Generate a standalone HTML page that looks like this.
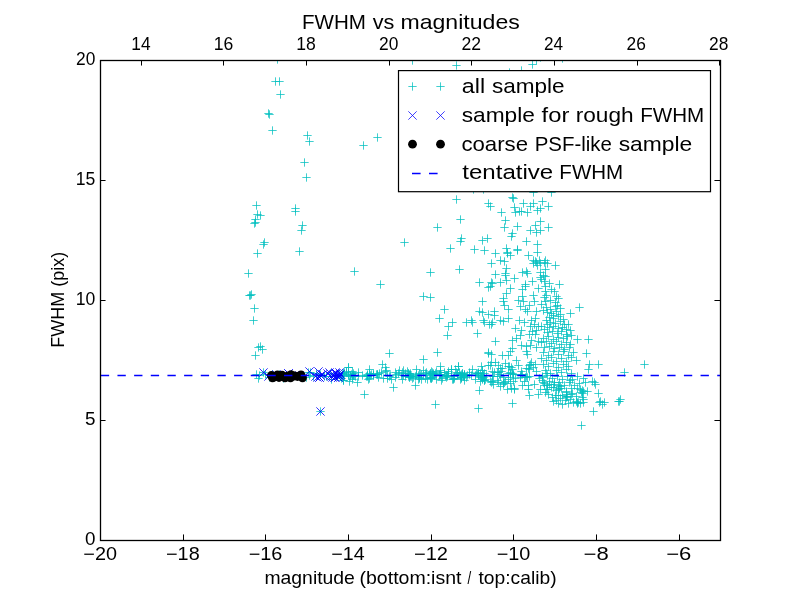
<!DOCTYPE html>
<html><head><meta charset="utf-8"><style>
html,body{margin:0;padding:0;background:#fff;}
svg{display:block;will-change:transform;}
text{font-family:"Liberation Sans", sans-serif;fill:#000;}
</style></head><body>
<svg width="800" height="600" viewBox="0 0 800 600">
<defs><clipPath id="ax"><rect x="100" y="60" width="620" height="480"/></clipPath></defs>
<rect x="0" y="0" width="800" height="600" fill="#fff"/>
<g clip-path="url(#ax)">
<path d="M273.33 59.50h8.33M277.50 55.34v8.33M271.33 81.50h8.33M275.50 77.33v8.33M275.33 81.50h8.33M279.50 77.33v8.33M276.33 94.50h8.33M280.50 90.33v8.33M264.33 113.50h8.33M268.50 109.33v8.33M265.33 114.50h8.33M269.50 110.33v8.33M268.33 130.50h8.33M272.50 126.33v8.33M303.33 135.50h8.33M307.50 131.34v8.33M305.33 141.50h8.33M309.50 137.34v8.33M300.33 162.50h8.33M304.50 158.34v8.33M302.33 177.50h8.33M306.50 173.34v8.33M252.34 205.50h8.33M256.50 201.34v8.33M256.33 215.50h8.33M260.50 211.34v8.33M253.34 214.50h8.33M257.50 210.34v8.33M251.34 219.50h8.33M255.50 215.34v8.33M251.34 222.50h8.33M255.50 218.34v8.33M250.34 223.50h8.33M254.50 219.34v8.33M291.33 208.50h8.33M295.50 204.34v8.33M291.33 211.50h8.33M295.50 207.34v8.33M298.33 225.50h8.33M302.50 221.34v8.33M297.33 230.50h8.33M301.50 226.34v8.33M260.33 242.50h8.33M264.50 238.34v8.33M259.33 244.50h8.33M263.50 240.34v8.33M253.34 253.50h8.33M257.50 249.34v8.33M295.33 251.50h8.33M299.50 247.34v8.33M244.34 273.50h8.33M248.50 269.33v8.33M245.34 295.50h8.33M249.50 291.33v8.33M247.34 294.50h8.33M251.50 290.33v8.33M246.34 295.50h8.33M250.50 291.33v8.33M250.34 308.50h8.33M254.50 304.33v8.33M249.34 320.50h8.33M253.50 316.33v8.33M254.34 347.50h8.33M258.50 343.33v8.33M256.33 346.50h8.33M260.50 342.33v8.33M258.33 349.50h8.33M262.50 345.33v8.33M251.34 355.50h8.33M255.50 351.33v8.33M259.33 372.50h8.33M263.50 368.33v8.33M373.33 137.50h8.33M377.50 133.34v8.33M359.33 145.50h8.33M363.50 141.34v8.33M408.33 60.50h8.33M412.50 56.34v8.33M400.33 242.50h8.33M404.50 238.34v8.33M350.33 271.50h8.33M354.50 267.33v8.33M376.33 284.50h8.33M380.50 280.33v8.33M419.33 296.50h8.33M423.50 292.33v8.33M452.33 65.50h8.33M456.50 61.34v8.33M528.34 64.50h8.33M532.50 60.34v8.33M532.34 60.50h8.33M536.50 56.34v8.33M505.33 72.50h8.33M509.50 68.33v8.33M517.34 70.50h8.33M521.50 66.33v8.33M536.34 57.50h8.33M540.50 53.34v8.33M558.34 58.50h8.33M562.50 54.34v8.33M452.33 199.50h8.33M456.50 195.34v8.33M484.33 203.50h8.33M488.50 199.34v8.33M486.33 206.50h8.33M490.50 202.34v8.33M508.33 197.50h8.33M512.50 193.34v8.33M509.33 198.50h8.33M513.50 194.34v8.33M497.33 212.50h8.33M501.50 208.34v8.33M510.33 207.50h8.33M514.50 203.34v8.33M511.33 212.50h8.33M515.50 208.34v8.33M515.34 211.50h8.33M519.50 207.34v8.33M456.33 219.50h8.33M460.50 215.34v8.33M501.33 220.50h8.33M505.50 216.34v8.33M433.33 227.50h8.33M437.50 223.34v8.33M500.33 227.50h8.33M504.50 223.34v8.33M513.34 226.50h8.33M517.50 222.34v8.33M508.33 233.50h8.33M512.50 229.34v8.33M507.33 236.50h8.33M511.50 232.34v8.33M457.33 238.50h8.33M461.50 234.34v8.33M456.33 241.50h8.33M460.50 237.34v8.33M483.33 238.50h8.33M487.50 234.34v8.33M478.33 240.50h8.33M482.50 236.34v8.33M446.33 248.50h8.33M450.50 244.34v8.33M470.33 249.50h8.33M474.50 245.34v8.33M480.33 250.50h8.33M484.50 246.34v8.33M502.33 248.50h8.33M506.50 244.34v8.33M513.34 249.50h8.33M517.50 245.34v8.33M455.33 269.50h8.33M459.50 265.33v8.33M426.33 272.50h8.33M430.50 268.33v8.33M475.33 282.50h8.33M479.50 278.33v8.33M529.34 192.50h8.33M533.50 188.34v8.33M547.34 192.50h8.33M551.50 188.34v8.33M519.34 203.50h8.33M523.50 199.34v8.33M529.34 203.50h8.33M533.50 199.34v8.33M538.34 201.50h8.33M542.50 197.34v8.33M526.34 206.50h8.33M530.50 202.34v8.33M544.34 206.50h8.33M548.50 202.34v8.33M517.34 211.50h8.33M521.50 207.34v8.33M523.34 212.50h8.33M527.50 208.34v8.33M533.34 210.50h8.33M537.50 206.34v8.33M536.34 208.50h8.33M540.50 204.34v8.33M536.34 221.50h8.33M540.50 217.34v8.33M531.34 225.50h8.33M535.50 221.34v8.33M544.34 227.50h8.33M548.50 223.34v8.33M526.34 230.50h8.33M530.50 226.34v8.33M532.34 232.50h8.33M536.50 228.34v8.33M536.34 230.50h8.33M540.50 226.34v8.33M522.34 241.50h8.33M526.50 237.34v8.33M533.34 244.50h8.33M537.50 240.34v8.33M484.33 287.50h8.33M488.50 283.33v8.33M426.33 297.50h8.33M430.50 293.33v8.33M440.33 309.50h8.33M444.50 305.33v8.33M435.33 318.50h8.33M439.50 314.33v8.33M448.33 322.50h8.33M452.50 318.33v8.33M444.33 326.50h8.33M448.50 322.33v8.33M443.33 335.50h8.33M447.50 331.33v8.33M433.33 352.50h8.33M437.50 348.33v8.33M419.33 359.50h8.33M423.50 355.33v8.33M478.33 301.50h8.33M482.50 297.33v8.33M475.33 311.50h8.33M479.50 307.33v8.33M478.33 312.50h8.33M482.50 308.33v8.33M484.33 314.50h8.33M488.50 310.33v8.33M462.33 322.50h8.33M466.50 318.33v8.33M467.33 320.50h8.33M471.50 316.33v8.33M468.33 322.50h8.33M472.50 318.33v8.33M479.33 320.50h8.33M483.50 316.33v8.33M480.33 322.50h8.33M484.50 318.33v8.33M485.33 324.50h8.33M489.50 320.33v8.33M473.33 333.50h8.33M477.50 329.33v8.33M484.33 352.50h8.33M488.50 348.33v8.33M454.33 366.50h8.33M458.50 362.33v8.33M640.34 364.50h8.33M644.50 360.33v8.33M620.34 372.50h8.33M624.50 368.33v8.33M596.34 401.50h8.33M600.50 397.33v8.33M600.34 402.50h8.33M604.50 398.33v8.33M598.34 404.50h8.33M602.50 400.33v8.33M616.34 399.50h8.33M620.50 395.33v8.33M615.34 401.50h8.33M619.50 397.33v8.33M589.34 411.50h8.33M593.50 407.33v8.33M577.34 425.50h8.33M581.50 421.33v8.33M431.33 404.50h8.33M435.50 400.33v8.33M474.33 408.50h8.33M478.50 404.33v8.33M475.33 390.50h8.33M479.50 386.33v8.33M614.34 401.50h8.33M618.50 397.33v8.33M385.33 353.50h8.33M389.50 349.33v8.33M484.33 353.50h8.33M488.50 349.33v8.33M360.33 394.50h8.33M364.50 390.33v8.33M389.33 387.50h8.33M393.50 383.33v8.33M411.33 385.50h8.33M415.50 381.33v8.33M353.33 382.50h8.33M357.50 378.33v8.33M344.33 367.50h8.33M348.50 363.33v8.33M378.33 364.50h8.33M382.50 360.33v8.33M381.33 367.50h8.33M385.50 363.33v8.33M436.33 366.50h8.33M440.50 362.33v8.33M454.33 366.50h8.33M458.50 362.33v8.33M437.33 380.50h8.33M441.50 376.33v8.33M477.33 366.50h8.33M481.50 362.33v8.33M484.33 365.50h8.33M488.50 361.33v8.33M344.33 367.50h8.33M348.50 363.33v8.33M342.33 371.50h8.33M346.50 367.33v8.33M339.33 373.50h8.33M343.50 369.33v8.33M339.33 380.50h8.33M343.50 376.33v8.33M346.33 376.50h8.33M350.50 372.33v8.33M349.33 373.50h8.33M353.50 369.33v8.33M316.33 411.50h8.33M320.50 407.33v8.33M524.34 255.50h8.33M528.50 251.34v8.33M533.34 252.50h8.33M537.50 248.34v8.33M529.34 260.50h8.33M533.50 256.33v8.33M531.34 261.50h8.33M535.50 257.33v8.33M532.34 262.50h8.33M536.50 258.33v8.33M535.34 260.50h8.33M539.50 256.33v8.33M529.34 263.50h8.33M533.50 259.33v8.33M536.34 263.50h8.33M540.50 259.33v8.33M533.34 265.50h8.33M537.50 261.33v8.33M540.34 262.50h8.33M544.50 258.33v8.33M541.34 260.50h8.33M545.50 256.33v8.33M543.34 263.50h8.33M547.50 259.33v8.33M551.34 265.50h8.33M555.50 261.33v8.33M518.34 272.50h8.33M522.50 268.33v8.33M522.34 271.50h8.33M526.50 267.33v8.33M523.34 273.50h8.33M527.50 269.33v8.33M541.34 269.50h8.33M545.50 265.33v8.33M536.34 272.50h8.33M540.50 268.33v8.33M539.34 275.50h8.33M543.50 271.33v8.33M536.34 277.50h8.33M540.50 273.33v8.33M541.34 276.50h8.33M545.50 272.33v8.33M528.34 281.50h8.33M532.50 277.33v8.33M537.34 279.50h8.33M541.50 275.33v8.33M540.34 281.50h8.33M544.50 277.33v8.33M545.34 283.50h8.33M549.50 279.33v8.33M555.34 284.50h8.33M559.50 280.33v8.33M521.34 284.50h8.33M525.50 280.33v8.33M521.34 286.50h8.33M525.50 282.33v8.33M518.34 289.50h8.33M522.50 285.33v8.33M534.34 288.50h8.33M538.50 284.33v8.33M541.34 286.50h8.33M545.50 282.33v8.33M547.34 289.50h8.33M551.50 285.33v8.33M541.34 291.50h8.33M545.50 287.33v8.33M550.34 291.50h8.33M554.50 287.33v8.33M542.34 295.50h8.33M546.50 291.33v8.33M529.34 295.50h8.33M533.50 291.33v8.33M552.34 296.50h8.33M556.50 292.33v8.33M518.34 296.50h8.33M522.50 292.33v8.33M540.34 297.50h8.33M544.50 293.33v8.33M554.34 298.50h8.33M558.50 294.33v8.33M491.33 253.50h8.33M495.50 249.34v8.33M503.33 252.50h8.33M507.50 248.34v8.33M506.33 255.50h8.33M510.50 251.34v8.33M503.33 253.50h8.33M507.50 249.34v8.33M513.34 250.50h8.33M517.50 246.34v8.33M496.33 260.50h8.33M500.50 256.33v8.33M500.33 261.50h8.33M504.50 257.33v8.33M487.33 263.50h8.33M491.50 259.33v8.33M502.33 268.50h8.33M506.50 264.33v8.33M501.33 273.50h8.33M505.50 269.33v8.33M491.33 274.50h8.33M495.50 270.33v8.33M501.33 275.50h8.33M505.50 271.33v8.33M502.33 280.50h8.33M506.50 276.33v8.33M510.33 278.50h8.33M514.50 274.33v8.33M496.33 282.50h8.33M500.50 278.33v8.33M487.33 282.50h8.33M491.50 278.33v8.33M488.33 283.50h8.33M492.50 279.33v8.33M486.33 286.50h8.33M490.50 282.33v8.33M506.33 288.50h8.33M510.50 284.33v8.33M502.33 293.50h8.33M506.50 289.33v8.33M499.33 298.50h8.33M503.50 294.33v8.33M499.33 301.50h8.33M503.50 297.33v8.33M500.33 305.50h8.33M504.50 301.33v8.33M504.33 309.50h8.33M508.50 305.33v8.33M490.33 311.50h8.33M494.50 307.33v8.33M490.33 315.50h8.33M494.50 311.33v8.33M496.33 320.50h8.33M500.50 316.33v8.33M499.33 321.50h8.33M503.50 317.33v8.33M504.33 318.50h8.33M508.50 314.33v8.33M488.33 322.50h8.33M492.50 318.33v8.33M487.33 324.50h8.33M491.50 320.33v8.33M491.33 341.50h8.33M495.50 337.33v8.33M515.34 320.50h8.33M519.50 316.33v8.33M511.33 328.50h8.33M515.50 324.33v8.33M517.34 330.50h8.33M521.50 326.33v8.33M516.34 335.50h8.33M520.50 331.33v8.33M508.33 340.50h8.33M512.50 336.33v8.33M512.34 338.50h8.33M516.50 334.33v8.33M517.34 345.50h8.33M521.50 341.33v8.33M508.33 348.50h8.33M512.50 344.33v8.33M514.34 300.50h8.33M518.50 296.33v8.33M519.34 301.50h8.33M523.50 297.33v8.33M516.34 306.50h8.33M520.50 302.33v8.33M525.34 305.50h8.33M529.50 301.33v8.33M521.34 309.50h8.33M525.50 305.33v8.33M523.34 311.50h8.33M527.50 307.33v8.33M532.34 311.50h8.33M536.50 307.33v8.33M530.34 301.50h8.33M534.50 297.33v8.33M520.34 322.50h8.33M524.50 318.33v8.33M527.34 320.50h8.33M531.50 316.33v8.33M531.34 318.50h8.33M535.50 314.33v8.33M526.34 326.50h8.33M530.50 322.33v8.33M530.34 324.50h8.33M534.50 320.33v8.33M534.34 326.50h8.33M538.50 322.33v8.33M528.34 331.50h8.33M532.50 327.33v8.33M532.34 330.50h8.33M536.50 326.33v8.33M531.34 334.50h8.33M535.50 330.33v8.33M525.34 334.50h8.33M529.50 330.33v8.33M527.34 340.50h8.33M531.50 336.33v8.33M526.34 345.50h8.33M530.50 341.33v8.33M534.34 341.50h8.33M538.50 337.33v8.33M522.34 346.50h8.33M526.50 342.33v8.33M532.34 347.50h8.33M536.50 343.33v8.33M575.34 307.50h8.33M579.50 303.33v8.33M566.34 313.50h8.33M570.50 309.33v8.33M564.34 324.50h8.33M568.50 320.33v8.33M566.34 330.50h8.33M570.50 326.33v8.33M573.34 339.50h8.33M577.50 335.33v8.33M584.34 339.50h8.33M588.50 335.33v8.33M537.34 326.50h8.33M541.50 322.33v8.33M567.34 335.50h8.33M571.50 331.33v8.33M541.34 301.50h8.33M545.50 297.33v8.33M546.34 300.50h8.33M550.50 296.33v8.33M551.34 302.50h8.33M555.50 298.33v8.33M537.34 304.50h8.33M541.50 300.33v8.33M553.34 305.50h8.33M557.50 301.33v8.33M542.34 307.50h8.33M546.50 303.33v8.33M546.34 309.50h8.33M550.50 305.33v8.33M551.34 306.50h8.33M555.50 302.33v8.33M556.34 308.50h8.33M560.50 304.33v8.33M539.34 310.50h8.33M543.50 306.33v8.33M543.34 312.50h8.33M547.50 308.33v8.33M547.34 313.50h8.33M551.50 309.33v8.33M552.34 311.50h8.33M556.50 307.33v8.33M556.34 314.50h8.33M560.50 310.33v8.33M549.34 315.50h8.33M553.50 311.33v8.33M545.34 317.50h8.33M549.50 313.33v8.33M549.34 318.50h8.33M553.50 314.33v8.33M554.34 316.50h8.33M558.50 312.33v8.33M559.34 319.50h8.33M563.50 315.33v8.33M542.34 320.50h8.33M546.50 316.33v8.33M546.34 322.50h8.33M550.50 318.33v8.33M551.34 323.50h8.33M555.50 319.33v8.33M556.34 321.50h8.33M560.50 317.33v8.33M560.34 324.50h8.33M564.50 320.33v8.33M543.34 324.50h8.33M547.50 320.33v8.33M545.34 327.50h8.33M549.50 323.33v8.33M549.34 326.50h8.33M553.50 322.33v8.33M554.34 328.50h8.33M558.50 324.33v8.33M558.34 327.50h8.33M562.50 323.33v8.33M562.34 329.50h8.33M566.50 325.33v8.33M540.34 329.50h8.33M544.50 325.33v8.33M543.34 332.50h8.33M547.50 328.33v8.33M548.34 331.50h8.33M552.50 327.33v8.33M553.34 333.50h8.33M557.50 329.33v8.33M557.34 331.50h8.33M561.50 327.33v8.33M562.34 334.50h8.33M566.50 330.33v8.33M539.34 338.50h8.33M543.50 334.33v8.33M544.34 336.50h8.33M548.50 332.33v8.33M549.34 339.50h8.33M553.50 335.33v8.33M554.34 337.50h8.33M558.50 333.33v8.33M559.34 338.50h8.33M563.50 334.33v8.33M563.34 336.50h8.33M567.50 332.33v8.33M537.34 342.50h8.33M541.50 338.33v8.33M542.34 341.50h8.33M546.50 337.33v8.33M547.34 343.50h8.33M551.50 339.33v8.33M552.34 341.50h8.33M556.50 337.33v8.33M557.34 344.50h8.33M561.50 340.33v8.33M562.34 342.50h8.33M566.50 338.33v8.33M566.34 344.50h8.33M570.50 340.33v8.33M540.34 347.50h8.33M544.50 343.33v8.33M545.34 346.50h8.33M549.50 342.33v8.33M550.34 348.50h8.33M554.50 344.33v8.33M555.34 347.50h8.33M559.50 343.33v8.33M560.34 349.50h8.33M564.50 345.33v8.33M565.34 347.50h8.33M569.50 343.33v8.33M508.33 403.50h8.33M512.50 399.33v8.33M525.34 395.50h8.33M529.50 391.33v8.33M534.34 394.50h8.33M538.50 390.33v8.33M487.33 354.50h8.33M491.50 350.33v8.33M504.33 355.50h8.33M508.50 351.33v8.33M498.33 355.50h8.33M502.50 351.33v8.33M523.34 354.50h8.33M527.50 350.33v8.33M506.33 351.50h8.33M510.50 347.33v8.33M522.34 351.50h8.33M526.50 347.33v8.33M487.33 362.50h8.33M491.50 358.33v8.33M490.33 372.50h8.33M494.50 368.33v8.33M493.33 380.50h8.33M497.50 376.33v8.33M496.33 368.50h8.33M500.50 364.33v8.33M499.33 377.50h8.33M503.50 373.33v8.33M501.33 363.50h8.33M505.50 359.33v8.33M504.33 373.50h8.33M508.50 369.33v8.33M506.33 383.50h8.33M510.50 379.33v8.33M508.33 369.50h8.33M512.50 365.33v8.33M511.33 378.50h8.33M515.50 374.33v8.33M514.34 365.50h8.33M518.50 361.33v8.33M517.34 374.50h8.33M521.50 370.33v8.33M520.34 381.50h8.33M524.50 377.33v8.33M522.34 368.50h8.33M526.50 364.33v8.33M525.34 376.50h8.33M529.50 372.33v8.33M527.34 362.50h8.33M531.50 358.33v8.33M530.34 384.50h8.33M534.50 380.33v8.33M532.34 371.50h8.33M536.50 367.33v8.33M535.34 378.50h8.33M539.50 374.33v8.33M489.33 384.50h8.33M493.50 380.33v8.33M496.33 386.50h8.33M500.50 382.33v8.33M503.33 389.50h8.33M507.50 385.33v8.33M510.33 388.50h8.33M514.50 384.33v8.33M518.34 385.50h8.33M522.50 381.33v8.33M524.34 389.50h8.33M528.50 385.33v8.33M512.34 360.50h8.33M516.50 356.33v8.33M531.34 364.50h8.33M535.50 360.33v8.33M500.33 382.50h8.33M504.50 378.33v8.33M582.34 353.50h8.33M586.50 349.33v8.33M594.34 364.50h8.33M598.50 360.33v8.33M585.34 364.50h8.33M589.50 360.33v8.33M584.34 369.50h8.33M588.50 365.33v8.33M590.34 382.50h8.33M594.50 378.33v8.33M591.34 384.50h8.33M595.50 380.33v8.33M588.34 381.50h8.33M592.50 377.33v8.33M594.34 393.50h8.33M598.50 389.33v8.33M595.34 402.50h8.33M599.50 398.33v8.33M558.34 404.50h8.33M562.50 400.33v8.33M554.34 403.50h8.33M558.50 399.33v8.33M548.34 397.50h8.33M552.50 393.33v8.33M541.34 392.50h8.33M545.50 388.33v8.33M579.34 399.50h8.33M583.50 395.33v8.33M569.34 402.50h8.33M573.50 398.33v8.33M572.34 401.50h8.33M576.50 397.33v8.33M539.34 352.50h8.33M543.50 348.33v8.33M544.34 355.50h8.33M548.50 351.33v8.33M549.34 351.50h8.33M553.50 347.33v8.33M554.34 354.50h8.33M558.50 350.33v8.33M559.34 351.50h8.33M563.50 347.33v8.33M564.34 355.50h8.33M568.50 351.33v8.33M569.34 352.50h8.33M573.50 348.33v8.33M537.34 358.50h8.33M541.50 354.33v8.33M542.34 360.50h8.33M546.50 356.33v8.33M547.34 357.50h8.33M551.50 353.33v8.33M552.34 361.50h8.33M556.50 357.33v8.33M557.34 358.50h8.33M561.50 354.33v8.33M562.34 361.50h8.33M566.50 357.33v8.33M567.34 357.50h8.33M571.50 353.33v8.33M572.34 360.50h8.33M576.50 356.33v8.33M539.34 364.50h8.33M543.50 360.33v8.33M544.34 366.50h8.33M548.50 362.33v8.33M549.34 363.50h8.33M553.50 359.33v8.33M554.34 367.50h8.33M558.50 363.33v8.33M559.34 364.50h8.33M563.50 360.33v8.33M564.34 366.50h8.33M568.50 362.33v8.33M541.34 370.50h8.33M545.50 366.33v8.33M546.34 373.50h8.33M550.50 369.33v8.33M552.34 370.50h8.33M556.50 366.33v8.33M557.34 372.50h8.33M561.50 368.33v8.33M562.34 369.50h8.33M566.50 365.33v8.33M567.34 373.50h8.33M571.50 369.33v8.33M538.34 377.50h8.33M542.50 373.33v8.33M543.34 375.50h8.33M547.50 371.33v8.33M548.34 378.50h8.33M552.50 374.33v8.33M553.34 376.50h8.33M557.50 372.33v8.33M558.34 379.50h8.33M562.50 375.33v8.33M563.34 376.50h8.33M567.50 372.33v8.33M568.34 379.50h8.33M572.50 375.33v8.33M573.34 376.50h8.33M577.50 372.33v8.33M579.34 378.50h8.33M583.50 374.33v8.33M540.34 383.50h8.33M544.50 379.33v8.33M545.34 381.50h8.33M549.50 377.33v8.33M550.34 384.50h8.33M554.50 380.33v8.33M555.34 382.50h8.33M559.50 378.33v8.33M560.34 385.50h8.33M564.50 381.33v8.33M565.34 382.50h8.33M569.50 378.33v8.33M570.34 385.50h8.33M574.50 381.33v8.33M575.34 383.50h8.33M579.50 379.33v8.33M542.34 389.50h8.33M546.50 385.33v8.33M547.34 387.50h8.33M551.50 383.33v8.33M552.34 390.50h8.33M556.50 386.33v8.33M557.34 388.50h8.33M561.50 384.33v8.33M562.34 391.50h8.33M566.50 387.33v8.33M567.34 388.50h8.33M571.50 384.33v8.33M544.34 394.50h8.33M548.50 390.33v8.33M551.34 395.50h8.33M555.50 391.33v8.33M556.34 398.50h8.33M560.50 394.33v8.33M562.34 394.50h8.33M566.50 390.33v8.33M566.34 399.50h8.33M570.50 395.33v8.33M572.34 396.50h8.33M576.50 392.33v8.33M505.33 366.50h8.33M509.50 362.33v8.33M506.33 372.50h8.33M510.50 368.33v8.33M509.33 374.50h8.33M513.50 370.33v8.33M509.33 374.50h8.33M513.50 370.33v8.33M516.34 377.50h8.33M520.50 373.33v8.33M495.33 374.50h8.33M499.50 370.33v8.33M481.33 379.50h8.33M485.50 375.33v8.33M478.33 370.50h8.33M482.50 366.33v8.33M539.34 382.50h8.33M543.50 378.33v8.33M516.34 375.50h8.33M520.50 371.33v8.33M486.33 381.50h8.33M490.50 377.33v8.33M479.33 377.50h8.33M483.50 373.33v8.33M488.33 376.50h8.33M492.50 372.33v8.33M506.33 377.50h8.33M510.50 373.33v8.33M504.33 379.50h8.33M508.50 375.33v8.33M517.34 371.50h8.33M521.50 367.33v8.33M508.33 373.50h8.33M512.50 369.33v8.33M494.33 372.50h8.33M498.50 368.33v8.33M540.34 385.50h8.33M544.50 381.33v8.33M522.34 376.50h8.33M526.50 372.33v8.33M496.33 376.50h8.33M500.50 372.33v8.33M480.33 380.50h8.33M484.50 376.33v8.33M525.34 369.50h8.33M529.50 365.33v8.33M501.33 381.50h8.33M505.50 377.33v8.33M538.34 376.50h8.33M542.50 372.33v8.33M489.33 376.50h8.33M493.50 372.33v8.33M577.34 392.50h8.33M581.50 388.33v8.33M579.34 391.50h8.33M583.50 387.33v8.33M554.34 395.50h8.33M558.50 391.33v8.33M573.34 388.50h8.33M577.50 384.33v8.33M554.34 389.50h8.33M558.50 385.33v8.33M578.34 397.50h8.33M582.50 393.33v8.33M555.34 388.50h8.33M559.50 384.33v8.33M554.34 385.50h8.33M558.50 381.33v8.33M488.33 381.50h8.33M492.50 377.33v8.33M404.33 373.50h8.33M408.50 369.33v8.33M455.33 372.50h8.33M459.50 368.33v8.33M409.33 377.50h8.33M413.50 373.33v8.33M415.33 373.50h8.33M419.50 369.33v8.33M441.33 376.50h8.33M445.50 372.33v8.33M398.33 379.50h8.33M402.50 375.33v8.33M438.33 378.50h8.33M442.50 374.33v8.33M447.33 375.50h8.33M451.50 371.33v8.33M401.33 373.50h8.33M405.50 369.33v8.33M474.33 372.50h8.33M478.50 368.33v8.33M458.33 373.50h8.33M462.50 369.33v8.33M493.33 372.50h8.33M497.50 368.33v8.33M432.33 379.50h8.33M436.50 375.33v8.33M453.33 374.50h8.33M457.50 370.33v8.33M404.33 373.50h8.33M408.50 369.33v8.33M443.33 375.50h8.33M447.50 371.33v8.33M440.33 372.50h8.33M444.50 368.33v8.33M460.33 376.50h8.33M464.50 372.33v8.33M428.33 377.50h8.33M432.50 373.33v8.33M477.33 376.50h8.33M481.50 372.33v8.33M405.33 377.50h8.33M409.50 373.33v8.33M399.33 375.50h8.33M403.50 371.33v8.33M478.33 379.50h8.33M482.50 375.33v8.33M429.33 374.50h8.33M433.50 370.33v8.33M426.33 377.50h8.33M430.50 373.33v8.33M473.33 373.50h8.33M477.50 369.33v8.33M406.33 375.50h8.33M410.50 371.33v8.33M474.33 374.50h8.33M478.50 370.33v8.33M419.33 370.50h8.33M423.50 366.33v8.33M573.34 402.50h8.33M577.50 398.33v8.33M574.34 402.50h8.33M578.50 398.33v8.33M564.34 403.50h8.33M568.50 399.33v8.33M562.34 392.50h8.33M566.50 388.33v8.33M561.34 400.50h8.33M565.50 396.33v8.33M576.34 403.50h8.33M580.50 399.33v8.33M579.34 402.50h8.33M583.50 398.33v8.33M573.34 403.50h8.33M577.50 399.33v8.33M578.34 390.50h8.33M582.50 386.33v8.33M583.34 391.50h8.33M587.50 387.33v8.33M486.33 365.50h8.33M490.50 361.33v8.33M509.33 381.50h8.33M513.50 377.33v8.33M494.33 365.50h8.33M498.50 361.33v8.33M499.33 383.50h8.33M503.50 379.33v8.33M494.33 382.50h8.33M498.50 378.33v8.33M525.34 365.50h8.33M529.50 361.33v8.33M518.34 374.50h8.33M522.50 370.33v8.33M510.33 389.50h8.33M514.50 385.33v8.33M491.33 362.50h8.33M495.50 358.33v8.33M542.34 373.50h8.33M546.50 369.33v8.33M497.33 371.50h8.33M501.50 367.33v8.33M507.33 388.50h8.33M511.50 384.33v8.33M498.33 368.50h8.33M502.50 364.33v8.33M521.34 377.50h8.33M525.50 373.33v8.33M543.34 385.50h8.33M547.50 381.33v8.33M507.33 367.50h8.33M511.50 363.33v8.33M536.34 389.50h8.33M540.50 385.33v8.33M487.33 382.50h8.33M491.50 378.33v8.33M538.34 380.50h8.33M542.50 376.33v8.33M499.33 384.50h8.33M503.50 380.33v8.33M529.34 367.50h8.33M533.50 363.33v8.33M524.34 368.50h8.33M528.50 364.33v8.33M488.33 371.50h8.33M492.50 367.33v8.33M506.33 373.50h8.33M510.50 369.33v8.33M524.34 385.50h8.33M528.50 381.33v8.33M543.34 389.50h8.33M547.50 385.33v8.33M545.34 384.50h8.33M549.50 380.33v8.33M504.33 366.50h8.33M508.50 362.33v8.33M523.34 377.50h8.33M527.50 373.33v8.33M526.34 364.50h8.33M530.50 360.33v8.33M552.34 400.50h8.33M556.50 396.33v8.33M567.34 394.50h8.33M571.50 390.33v8.33M549.34 387.50h8.33M553.50 383.33v8.33M578.34 393.50h8.33M582.50 389.33v8.33M581.34 382.50h8.33M585.50 378.33v8.33M562.34 397.50h8.33M566.50 393.33v8.33M562.34 396.50h8.33M566.50 392.33v8.33M566.34 380.50h8.33M570.50 376.33v8.33M549.34 401.50h8.33M553.50 397.33v8.33M550.34 382.50h8.33M554.50 378.33v8.33M558.34 395.50h8.33M562.50 391.33v8.33M576.34 389.50h8.33M580.50 385.33v8.33M563.34 396.50h8.33M567.50 392.33v8.33M556.34 386.50h8.33M560.50 382.33v8.33M568.34 393.50h8.33M572.50 389.33v8.33M457.33 377.50h8.33M461.50 373.33v8.33M477.33 377.50h8.33M481.50 373.33v8.33M476.33 381.50h8.33M480.50 377.33v8.33M463.33 375.50h8.33M467.50 371.33v8.33M478.33 378.50h8.33M482.50 374.33v8.33M456.33 375.50h8.33M460.50 371.33v8.33M467.33 375.50h8.33M471.50 371.33v8.33M457.33 377.50h8.33M461.50 373.33v8.33M459.33 376.50h8.33M463.50 372.33v8.33M474.33 375.50h8.33M478.50 371.33v8.33M469.33 189.50h8.33M473.50 185.34v8.33M479.33 189.50h8.33M483.50 185.34v8.33M265.33 377.50h8.33M269.50 373.33v8.33M254.34 378.50h8.33M258.50 374.33v8.33M275.33 374.50h8.33M279.50 370.33v8.33M273.33 376.50h8.33M277.50 372.33v8.33M252.34 374.50h8.33M256.50 370.33v8.33M255.34 375.50h8.33M259.50 371.33v8.33M270.33 376.50h8.33M274.50 372.33v8.33M261.33 374.50h8.33M265.50 370.33v8.33M279.33 378.50h8.33M283.50 374.33v8.33M268.33 374.50h8.33M272.50 370.33v8.33M339.33 380.50h8.33M343.50 376.33v8.33M309.33 376.50h8.33M313.50 372.33v8.33M302.33 377.50h8.33M306.50 373.33v8.33M332.33 376.50h8.33M336.50 372.33v8.33M304.33 372.50h8.33M308.50 368.33v8.33M312.33 373.50h8.33M316.50 369.33v8.33M320.33 376.50h8.33M324.50 372.33v8.33M305.33 375.50h8.33M309.50 371.33v8.33M326.33 373.50h8.33M330.50 369.33v8.33M322.33 376.50h8.33M326.50 372.33v8.33M316.33 374.50h8.33M320.50 370.33v8.33M327.33 379.50h8.33M331.50 375.33v8.33M306.33 372.50h8.33M310.50 368.33v8.33M335.33 374.50h8.33M339.50 370.33v8.33M394.33 373.50h8.33M398.50 369.33v8.33M345.33 381.50h8.33M349.50 377.33v8.33M369.33 375.50h8.33M373.50 371.33v8.33M375.33 373.50h8.33M379.50 369.33v8.33M339.33 373.50h8.33M343.50 369.33v8.33M381.33 371.50h8.33M385.50 367.33v8.33M406.33 373.50h8.33M410.50 369.33v8.33M383.33 378.50h8.33M387.50 374.33v8.33M382.33 370.50h8.33M386.50 366.33v8.33M411.33 376.50h8.33M415.50 372.33v8.33M373.33 374.50h8.33M377.50 370.33v8.33M392.33 374.50h8.33M396.50 370.33v8.33M387.33 379.50h8.33M391.50 375.33v8.33M358.33 375.50h8.33M362.50 371.33v8.33M366.33 375.50h8.33M370.50 371.33v8.33M372.33 374.50h8.33M376.50 370.33v8.33M349.33 375.50h8.33M353.50 371.33v8.33M397.33 375.50h8.33M401.50 371.33v8.33M346.33 375.50h8.33M350.50 371.33v8.33M405.33 377.50h8.33M409.50 373.33v8.33M342.33 372.50h8.33M346.50 368.33v8.33M406.33 376.50h8.33M410.50 372.33v8.33M401.33 376.50h8.33M405.50 372.33v8.33M369.33 373.50h8.33M373.50 369.33v8.33M364.33 379.50h8.33M368.50 375.33v8.33M348.33 371.50h8.33M352.50 367.33v8.33M350.33 375.50h8.33M354.50 371.33v8.33M374.33 377.50h8.33M378.50 373.33v8.33M383.33 375.50h8.33M387.50 371.33v8.33M369.33 375.50h8.33M373.50 371.33v8.33M365.33 369.50h8.33M369.50 365.33v8.33M391.33 372.50h8.33M395.50 368.33v8.33M377.33 372.50h8.33M381.50 368.33v8.33M340.33 372.50h8.33M344.50 368.33v8.33M407.33 376.50h8.33M411.50 372.33v8.33M399.33 370.50h8.33M403.50 366.33v8.33M367.33 374.50h8.33M371.50 370.33v8.33M386.33 375.50h8.33M390.50 371.33v8.33M340.33 376.50h8.33M344.50 372.33v8.33M348.33 376.50h8.33M352.50 372.33v8.33M363.33 375.50h8.33M367.50 371.33v8.33M348.33 375.50h8.33M352.50 371.33v8.33M344.33 374.50h8.33M348.50 370.33v8.33M405.33 375.50h8.33M409.50 371.33v8.33M385.33 376.50h8.33M389.50 372.33v8.33M363.33 376.50h8.33M367.50 372.33v8.33M365.33 378.50h8.33M369.50 374.33v8.33M415.33 378.50h8.33M419.50 374.33v8.33M373.33 374.50h8.33M377.50 370.33v8.33M344.33 375.50h8.33M348.50 371.33v8.33M363.33 374.50h8.33M367.50 370.33v8.33M348.33 379.50h8.33M352.50 375.33v8.33M337.33 378.50h8.33M341.50 374.33v8.33M347.33 374.50h8.33M351.50 370.33v8.33M379.33 378.50h8.33M383.50 374.33v8.33M414.33 375.50h8.33M418.50 371.33v8.33M405.33 374.50h8.33M409.50 370.33v8.33M365.33 373.50h8.33M369.50 369.33v8.33M349.33 375.50h8.33M353.50 371.33v8.33M398.33 372.50h8.33M402.50 368.33v8.33M362.33 376.50h8.33M366.50 372.33v8.33M414.33 379.50h8.33M418.50 375.33v8.33M404.33 376.50h8.33M408.50 372.33v8.33M395.33 370.50h8.33M399.50 366.33v8.33M354.33 372.50h8.33M358.50 368.33v8.33M338.33 375.50h8.33M342.50 371.33v8.33M338.33 374.50h8.33M342.50 370.33v8.33M391.33 377.50h8.33M395.50 373.33v8.33M412.33 369.50h8.33M416.50 365.33v8.33M415.33 377.50h8.33M419.50 373.33v8.33M412.33 374.50h8.33M416.50 370.33v8.33M354.33 376.50h8.33M358.50 372.33v8.33M351.33 376.50h8.33M355.50 372.33v8.33M408.33 378.50h8.33M412.50 374.33v8.33M403.33 371.50h8.33M407.50 367.33v8.33M479.33 375.50h8.33M483.50 371.33v8.33M422.33 372.50h8.33M426.50 368.33v8.33M478.33 370.50h8.33M482.50 366.33v8.33M476.33 373.50h8.33M480.50 369.33v8.33M479.33 375.50h8.33M483.50 371.33v8.33M442.33 377.50h8.33M446.50 373.33v8.33M447.33 369.50h8.33M451.50 365.33v8.33M448.33 379.50h8.33M452.50 375.33v8.33M429.33 373.50h8.33M433.50 369.33v8.33M426.33 378.50h8.33M430.50 374.33v8.33M480.33 380.50h8.33M484.50 376.33v8.33M427.33 378.50h8.33M431.50 374.33v8.33M468.33 369.50h8.33M472.50 365.33v8.33M444.33 373.50h8.33M448.50 369.33v8.33M417.33 374.50h8.33M421.50 370.33v8.33M450.33 378.50h8.33M454.50 374.33v8.33M432.33 371.50h8.33M436.50 367.33v8.33M436.33 374.50h8.33M440.50 370.33v8.33M462.33 377.50h8.33M466.50 373.33v8.33M436.33 374.50h8.33M440.50 370.33v8.33M444.33 371.50h8.33M448.50 367.33v8.33M449.33 378.50h8.33M453.50 374.33v8.33M458.33 373.50h8.33M462.50 369.33v8.33M457.33 378.50h8.33M461.50 374.33v8.33M430.33 375.50h8.33M434.50 371.33v8.33M416.33 375.50h8.33M420.50 371.33v8.33M453.33 373.50h8.33M457.50 369.33v8.33M474.33 373.50h8.33M478.50 369.33v8.33M457.33 374.50h8.33M461.50 370.33v8.33M460.33 375.50h8.33M464.50 371.33v8.33M460.33 374.50h8.33M464.50 370.33v8.33M435.33 374.50h8.33M439.50 370.33v8.33M456.33 379.50h8.33M460.50 375.33v8.33M460.33 375.50h8.33M464.50 371.33v8.33M451.33 369.50h8.33M455.50 365.33v8.33M465.33 372.50h8.33M469.50 368.33v8.33M471.33 375.50h8.33M475.50 371.33v8.33M452.33 372.50h8.33M456.50 368.33v8.33M471.33 379.50h8.33M475.50 375.33v8.33M436.33 370.50h8.33M440.50 366.33v8.33M460.33 380.50h8.33M464.50 376.33v8.33M426.33 373.50h8.33M430.50 369.33v8.33M425.33 374.50h8.33M429.50 370.33v8.33M435.33 375.50h8.33M439.50 371.33v8.33M421.33 373.50h8.33M425.50 369.33v8.33M428.33 374.50h8.33M432.50 370.33v8.33M427.33 371.50h8.33M431.50 367.33v8.33M447.33 369.50h8.33M451.50 365.33v8.33M482.33 375.50h8.33M486.50 371.33v8.33M428.33 372.50h8.33M432.50 368.33v8.33M443.33 376.50h8.33M447.50 372.33v8.33M431.33 373.50h8.33M435.50 369.33v8.33M417.33 379.50h8.33M421.50 375.33v8.33M460.33 374.50h8.33M464.50 370.33v8.33M442.33 375.50h8.33M446.50 371.33v8.33M465.33 374.50h8.33M469.50 370.33v8.33M479.33 376.50h8.33M483.50 372.33v8.33M437.33 375.50h8.33M441.50 371.33v8.33M419.33 375.50h8.33M423.50 371.33v8.33M426.33 373.50h8.33M430.50 369.33v8.33M449.33 379.50h8.33M453.50 375.33v8.33M436.33 372.50h8.33M440.50 368.33v8.33M427.33 378.50h8.33M431.50 374.33v8.33M472.33 373.50h8.33M476.50 369.33v8.33M423.33 379.50h8.33M427.50 375.33v8.33M450.33 376.50h8.33M454.50 372.33v8.33M421.33 378.50h8.33M425.50 374.33v8.33M480.33 373.50h8.33M484.50 369.33v8.33M422.33 375.50h8.33M426.50 371.33v8.33" stroke="#00bfbf" stroke-width="0.75" fill="none"/>
<path d="M259.33 368.33l8.33 8.33M259.33 376.67l8.33 -8.33M316.33 407.33l8.33 8.33M316.33 415.67l8.33 -8.33M271.33 371.33l8.33 8.33M271.33 379.67l8.33 -8.33M275.33 371.33l8.33 8.33M275.33 379.67l8.33 -8.33M284.33 369.33l8.33 8.33M284.33 377.67l8.33 -8.33M264.33 372.33l8.33 8.33M264.33 380.67l8.33 -8.33M272.33 370.33l8.33 8.33M272.33 378.67l8.33 -8.33M295.33 371.33l8.33 8.33M295.33 379.67l8.33 -8.33M290.33 371.33l8.33 8.33M290.33 379.67l8.33 -8.33M284.33 369.33l8.33 8.33M284.33 377.67l8.33 -8.33M313.33 373.33l8.33 8.33M313.33 381.67l8.33 -8.33M311.33 372.33l8.33 8.33M311.33 380.67l8.33 -8.33M314.33 367.33l8.33 8.33M314.33 375.67l8.33 -8.33M316.33 371.33l8.33 8.33M316.33 379.67l8.33 -8.33M305.33 367.33l8.33 8.33M305.33 375.67l8.33 -8.33M318.33 370.33l8.33 8.33M318.33 378.67l8.33 -8.33M315.33 373.33l8.33 8.33M315.33 381.67l8.33 -8.33M315.33 373.33l8.33 8.33M315.33 381.67l8.33 -8.33M327.33 372.33l8.33 8.33M327.33 380.67l8.33 -8.33M328.33 373.33l8.33 8.33M328.33 381.67l8.33 -8.33M335.33 368.33l8.33 8.33M335.33 376.67l8.33 -8.33M323.33 369.33l8.33 8.33M323.33 377.67l8.33 -8.33M336.33 370.33l8.33 8.33M336.33 378.67l8.33 -8.33M331.33 369.33l8.33 8.33M331.33 377.67l8.33 -8.33M329.33 370.33l8.33 8.33M329.33 378.67l8.33 -8.33M326.33 371.33l8.33 8.33M326.33 379.67l8.33 -8.33M330.33 373.33l8.33 8.33M330.33 381.67l8.33 -8.33M331.33 373.33l8.33 8.33M331.33 381.67l8.33 -8.33M334.33 373.33l8.33 8.33M334.33 381.67l8.33 -8.33M331.33 368.33l8.33 8.33M331.33 376.67l8.33 -8.33M334.33 373.33l8.33 8.33M334.33 381.67l8.33 -8.33M335.33 371.33l8.33 8.33M335.33 379.67l8.33 -8.33M332.33 369.33l8.33 8.33M332.33 377.67l8.33 -8.33M334.33 371.33l8.33 8.33M334.33 379.67l8.33 -8.33M325.33 368.33l8.33 8.33M325.33 376.67l8.33 -8.33" stroke="#0000ff" stroke-width="0.8" fill="none"/>
<g fill="#000"><circle cx="271.3" cy="375.5" r="4.4"/><circle cx="272.5" cy="377.8" r="4.4"/><circle cx="277.5" cy="374.8" r="4.4"/><circle cx="279" cy="377.5" r="4.4"/><circle cx="282" cy="375.2" r="4.4"/><circle cx="285" cy="377.8" r="4.4"/><circle cx="290.5" cy="377.8" r="4.4"/><circle cx="291" cy="374.6" r="4.4"/><circle cx="294.5" cy="376" r="4.4"/><circle cx="301" cy="374.8" r="4.4"/><circle cx="302.5" cy="377.8" r="4.4"/><circle cx="274.5" cy="377" r="4.4"/><circle cx="287.5" cy="376.2" r="4.4"/><circle cx="297.5" cy="376.5" r="4.4"/></g>
<path d="M100 375.5H720" stroke="#0000ff" stroke-width="1.39" stroke-dasharray="8.33 8.33" stroke-dashoffset="-0.8" fill="none"/>
</g>
<path d="M100.50 540v-5.56M183.50 540v-5.56M265.50 540v-5.56M348.50 540v-5.56M431.50 540v-5.56M513.50 540v-5.56M596.50 540v-5.56M679.50 540v-5.56M141.50 60v5.56M223.50 60v5.56M306.50 60v5.56M389.50 60v5.56M471.50 60v5.56M554.50 60v5.56M637.50 60v5.56M719.50 60v5.56M100 540.5h5.56M720 540.5h-5.56M100 420.5h5.56M720 420.5h-5.56M100 300.5h5.56M720 300.5h-5.56M100 180.5h5.56M720 180.5h-5.56M100 60.5h5.56M720 60.5h-5.56" stroke="#000" stroke-width="1" fill="none"/>
<rect x="100.5" y="60.5" width="620" height="480" fill="none" stroke="#000" stroke-width="1.3"/>
<g>
<rect x="398.5" y="70.6" width="312" height="121.1" fill="#fff" stroke="#000" stroke-width="1.2"/>
<path d="M408.33 86.50h8.33M412.50 82.33v8.33M436.33 86.50h8.33M440.50 82.33v8.33" stroke="#00bfbf" stroke-width="0.75" fill="none"/>
<path d="M408.33 111.33l8.33 8.33M408.33 119.67l8.33 -8.33M436.33 111.33l8.33 8.33M436.33 119.67l8.33 -8.33" stroke="#0000ff" stroke-width="0.75" fill="none"/>
<circle cx="412.5" cy="144.2" r="4.4"/><circle cx="440.5" cy="144.2" r="4.4"/>
<path d="M412 173.5h8.6M429 173.5h8.6" stroke="#0000ff" stroke-width="1.39" fill="none"/>
</g>
<text transform="translate(83.35,559.60) scale(1.1026,1)" font-size="18">−20</text>
<text transform="translate(166.01,559.60) scale(1.1026,1)" font-size="18">−18</text>
<text transform="translate(248.68,559.60) scale(1.1026,1)" font-size="18">−16</text>
<text transform="translate(331.36,559.60) scale(1.0931,1)" font-size="18">−14</text>
<text transform="translate(414.00,559.60) scale(1.1123,1)" font-size="18">−12</text>
<text transform="translate(496.68,559.60) scale(1.1026,1)" font-size="18">−10</text>
<text transform="translate(583.57,559.60) scale(1.2267,1)" font-size="18">−8</text>
<text transform="translate(666.24,559.60) scale(1.2267,1)" font-size="18">−6</text>
<text transform="translate(131.25,50.00) scale(0.9644,1)" font-size="18">14</text>
<text transform="translate(213.74,50.00) scale(0.9778,1)" font-size="18">16</text>
<text transform="translate(296.24,50.00) scale(0.9778,1)" font-size="18">18</text>
<text transform="translate(379.01,50.00) scale(0.9644,1)" font-size="18">20</text>
<text transform="translate(461.50,50.00) scale(0.9778,1)" font-size="18">22</text>
<text transform="translate(544.04,50.00) scale(0.9514,1)" font-size="18">24</text>
<text transform="translate(626.53,50.00) scale(0.9644,1)" font-size="18">26</text>
<text transform="translate(709.04,50.00) scale(0.9644,1)" font-size="18">28</text>
<text transform="translate(84.91,544.60) scale(1.0471,1)" font-size="18">0</text>
<text transform="translate(84.91,424.60) scale(1.0471,1)" font-size="18">5</text>
<text transform="translate(75.78,304.60) scale(0.9778,1)" font-size="18">10</text>
<text transform="translate(75.78,184.60) scale(0.9778,1)" font-size="18">15</text>
<text transform="translate(76.04,64.60) scale(0.9644,1)" font-size="18">20</text>
<text transform="translate(301.94,29.20) scale(1.0041,1)" font-size="20.5">FWHM</text>
<text transform="translate(372.64,29.20) scale(1.0564,1)" font-size="20.5">vs</text>
<text transform="translate(400.51,29.20) scale(1.1258,1)" font-size="20.5">magnitudes</text>
<text transform="translate(264.45,584.00) scale(1.0768,1)" font-size="18">magnitude</text>
<text transform="translate(359.51,584.00) scale(1.0860,1)" font-size="18">(bottom:isnt</text>
<text transform="translate(467.60,584.00) scale(0.7400,1)" font-size="18">/</text>
<text transform="translate(478.53,584.00) scale(1.0690,1)" font-size="18">top:calib)</text>
<text transform="translate(64.00,346.30) rotate(-90) scale(1.0005,1) translate(-1.50,0)" font-size="18">FWHM (pix)</text>
<text transform="translate(461.86,92.80) scale(1.1389,1)" font-size="20.5">all</text>
<text transform="translate(491.93,92.80) scale(1.1000,1)" font-size="20.5">sample</text>
<text transform="translate(461.67,121.70) scale(1.1085,1)" font-size="20.5">sample</text>
<text transform="translate(541.61,121.70) scale(1.1613,1)" font-size="20.5">for</text>
<text transform="translate(575.72,121.70) scale(1.1055,1)" font-size="20.5">rough</text>
<text transform="translate(640.24,121.70) scale(1.0041,1)" font-size="20.5">FWHM</text>
<text transform="translate(461.42,150.80) scale(1.0840,1)" font-size="20.5">coarse</text>
<text transform="translate(534.65,150.80) scale(0.9980,1)" font-size="20.5">PSF-like</text>
<text transform="translate(618.66,150.80) scale(1.1147,1)" font-size="20.5">sample</text>
<text transform="translate(462.21,179.10) scale(1.1751,1)" font-size="20.5">tentative</text>
<text transform="translate(559.35,179.10) scale(1.0025,1)" font-size="20.5">FWHM</text>
</svg>
</body></html>
